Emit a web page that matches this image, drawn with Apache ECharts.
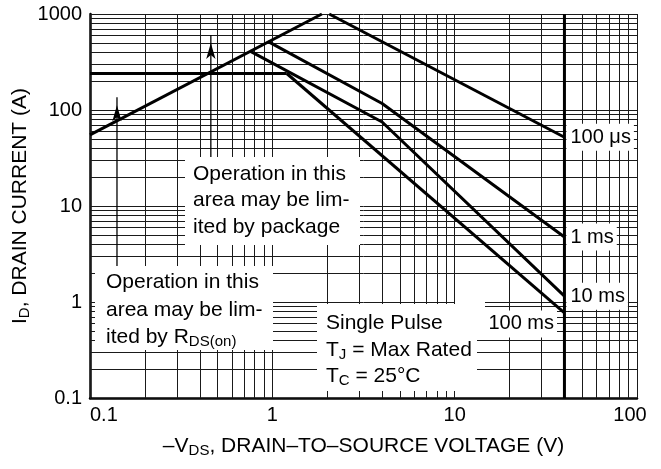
<!DOCTYPE html>
<html>
<head>
<meta charset="utf-8">
<script src="https://cdn.jsdelivr.net/npm/echarts@6/dist/echarts.min.js"></script>
<style>
  html, body { margin: 0; padding: 0; background: #fff; }
  #main { width: 661px; height: 469px; }
</style>
</head>
<body>
<div id="main"></div>
<script>
// safe operating area, log-log
var xTicks = [0.1, 1, 10, 100];
var yTicks = [0.1, 1, 10, 100, 1000];

var rdsV = [0.1, 1.87];
var rdsI = [55, 1000];
var pkgV = [0.1, 1.2];
var pkgI = [240, 240];
var us100V = [2.05, 40];
var us100I = [1000, 52];
var ms1V = [0.95, 4, 40];
var ms1I = [515, 117, 4.75];
var ms10V = [0.755, 4, 40];
var ms10I = [410, 75, 1.15];
var ms100V = [1.2, 40];
var ms100I = [240, 0.77];
var bvdssV = [40, 40];
var bvdssI = [0.1, 1000];
var arrowV = [0.1406, 0.46];
var arrowFromI = [2.37, 32.4];
var arrowToI = [136, 604];

var FONT = 'Liberation Sans, Arial, Helvetica, sans-serif';

function pts(xs, ys) {
    return xs.map(function (x, i) { return [x, ys[i]]; });
}

// 1..9 x 10^k lines between the tick decades
function gridVals(ticks) {
    var out = [];
    for (var d = 0; d < ticks.length - 1; d++) {
        for (var k = 1; k <= 9; k++) out.push(+(ticks[d] * k).toPrecision(3));
    }
    out.push(ticks[ticks.length - 1]);
    return out;
}

var xMin = xTicks[0], xMax = xTicks[xTicks.length - 1];
var yMin = yTicks[0], yMax = yTicks[yTicks.length - 1];
var gridLines = [];
gridVals(xTicks).forEach(function (v) { gridLines.push({ coords: [[v, yMin], [v, yMax]] }); });
gridVals(yTicks).forEach(function (v) { gridLines.push({ coords: [[xMin, v], [xMax, v]] }); });

var endLbl = {
    show: true,
    color: '#000',
    fontSize: 20,
    fontFamily: FONT,
    backgroundColor: '#fff',
    padding: [4, 3, 3, 4],
    distance: 2
};

function curve(xs, ys, label, extraLabel) {
    var s = {
        type: 'line',
        data: pts(xs, ys),
        symbol: 'none',
        z: 5,
        lineStyle: { color: '#000', width: 3 },
        animation: false
    };
    if (label) {
        s.endLabel = Object.assign({}, endLbl, { formatter: label }, extraLabel || {});
    }
    return s;
}

function arrow(i) {
    return {
        type: 'line',
        symbol: 'none',
        z: 5,
        data: [
            [arrowV[i], arrowFromI[i]],
            { value: [arrowV[i], arrowToI[i]], symbol: 'arrow', symbolSize: [7, 16], symbolOffset: [0, 8] }
        ],
        lineStyle: { color: '#000', width: 1.3 },
        itemStyle: { color: '#000' },
        animation: false
    };
}

var subStyle = { fontSize: 15, fontFamily: FONT, fill: '#000', padding: [9, 0, 0, 0] };

function note(x, y, text) {
    return {
        type: 'text', x: x, y: y, z: 10,
        style: {
            text: text, fill: '#000', fontSize: 21, fontFamily: FONT,
            verticalAlign: 'middle',
            rich: { sub: subStyle }
        }
    };
}
function box(x, y, w, h) {
    return { type: 'rect', shape: { x: x, y: y, width: w, height: h }, z: 2, style: { fill: '#fff' } };
}

var myChart = echarts.init(document.getElementById('main'));
myChart.setOption({
    backgroundColor: '#fff',
    animation: false,
    grid: { left: 90, top: 14, right: 24, bottom: 71, outerBoundsMode: 'none' },
    xAxis: {
        type: 'log',
        logBase: 10,
        min: xMin,
        max: xMax,
        axisLine: { lineStyle: { color: '#000', width: 2.5 } },
        axisTick: { show: false },
        splitLine: { show: false },
        axisLabel: {
            color: '#000', fontSize: 20, fontFamily: FONT, margin: 7,
            alignMinLabel: 'left',
            formatter: function (v) {
                if (v >= 100) return '{m|100}';
                return v >= 1 ? String(Math.round(v)) : v.toFixed(1);
            },
            rich: { m: { fontSize: 20, fontFamily: FONT, color: '#000', padding: [0, 14, 0, 0] } }
        },
        name: '\u2013V{sub|DS}, DRAIN\u2013TO\u2013SOURCE VOLTAGE (V)',
        nameLocation: 'middle',
        nameGap: 36,
        nameMoveOverlap: false,
        nameTextStyle: {
            color: '#000', fontSize: 21, fontFamily: FONT,
            rich: { sub: { fontSize: 15, fontFamily: FONT, color: '#000', padding: [9, 0, 0, 0] } }
        }
    },
    yAxis: {
        type: 'log',
        logBase: 10,
        min: yMin,
        max: yMax,
        axisLine: { show: true, lineStyle: { color: '#000', width: 2.5 } },
        axisTick: { show: false },
        splitLine: { show: false },
        axisLabel: {
            color: '#000', fontSize: 20, fontFamily: FONT, margin: 8,
            formatter: function (v) { return v >= 1 ? String(Math.round(v)) : v.toFixed(1); }
        },
        name: 'I{sub|D}, DRAIN CURRENT (A)',
        nameLocation: 'middle',
        nameRotate: 90,
        nameGap: 58,
        nameMoveOverlap: false,
        nameTextStyle: {
            color: '#000', fontSize: 21, fontFamily: FONT,
            rich: { sub: { fontSize: 15, fontFamily: FONT, color: '#000', padding: [9, 0, 0, 0] } }
        }
    },
    graphic: [
        box(185, 157, 175, 88),
        box(95, 266, 178, 84),
        box(317, 304, 160, 87),
        box(455, 301, 30, 38),
        note(193, 174, 'Operation in this'),
        note(193, 200, 'area may be lim-'),
        note(193, 227, 'ited by package'),
        note(106, 282, 'Operation in this'),
        note(106, 310, 'area may be lim-'),
        note(106, 337, 'ited by R{sub|DS(on)}'),
        note(326, 323, 'Single Pulse'),
        note(326, 350, 'T{sub|J} = Max Rated'),
        note(326, 376, 'T{sub|C} = 25\u00b0C')
    ],
    series: [
        {
            type: 'lines',
            coordinateSystem: 'cartesian2d',
            data: gridLines,
            silent: true,
            z: 1,
            lineStyle: { color: '#1a1a1a', width: 1, opacity: 1 },
            animation: false
        },
        curve(rdsV, rdsI),
        curve(pkgV, pkgI),
        curve(us100V, us100I, '100 \u03bcs'),
        curve(ms1V, ms1I, '1 ms'),
        curve(ms10V, ms10I, '10 ms'),
        curve(ms100V, ms100I, '100 ms', { offset: [-82, 11] }),
        curve(bvdssV, bvdssI),
        arrow(0),
        arrow(1)
    ]
});
</script>
</body>
</html>
